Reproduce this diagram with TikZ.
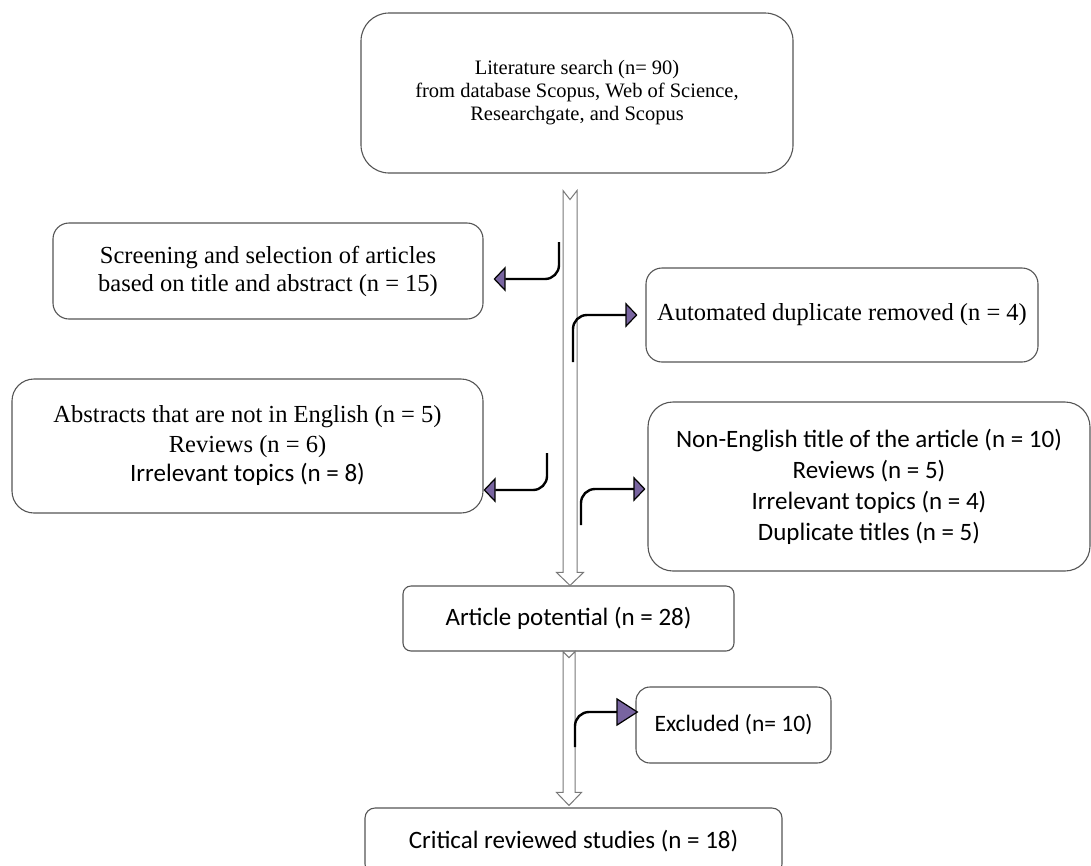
\documentclass[tikz,border=0pt]{standalone}
\usepackage{fontspec}
\setmainfont{Liberation Serif}
\newfontfamily\calib{Carlito}
\usetikzlibrary{arrows.meta,calc}
\definecolor{purp}{RGB}{120,100,160}
\definecolor{edge}{RGB}{85,85,85}
\definecolor{shaft}{RGB}{120,120,120}
\begin{document}
\begin{tikzpicture}[x=1pt,y=-1pt,
  box/.style={draw=edge,line width=1.1pt,fill=white,align=center,inner sep=0pt},
  serif/.style={font=\fontsize{24.5}{28}\selectfont},
  sans/.style={font=\calib\fontsize{25}{31}\selectfont},
  barrow/.style={draw=shaft,line width=1pt,fill=white,line join=miter},
  conn/.style={draw=black,line width=2.4pt,rounded corners=14pt,
    -{Triangle[length=12pt,width=25pt,line width=1.2pt,fill=purp]}},
  connbig/.style={draw=black,line width=2.4pt,rounded corners=14pt,
    -{Triangle[length=22pt,width=28pt,line width=1.2pt,fill=purp]}},
]
\useasboundingbox (0,0) rectangle (1091,865);
\clip (0,0) rectangle (1091,865);

% boxes
\node[box,rounded corners=28pt,minimum width=432pt,minimum height=160pt,
  font=\fontsize{20.5}{23}\selectfont] (top) at (577,93)
  {Literature search (n= 90)\\from database Scopus, Web of Science,\\Researchgate, and Scopus};
\node[box,serif,rounded corners=16pt,minimum width=430pt,minimum height=96pt] (scr) at (268,271)
  {Screening and selection of articles\\based on title and abstract (n = 15)};
\node[box,serif,rounded corners=16pt,minimum width=392pt,minimum height=94pt] (auto) at (842,315)
  {Automated duplicate removed (n = 4)};
\node[box,rounded corners=22pt,minimum width=471pt,minimum height=134pt,
  font=\fontsize{24.5}{29.5}\selectfont] (abs) at (247.5,446)
  {Abstracts that are not in English (n = 5)\\Reviews (n = 6)\\{\calib\fontsize{25}{29.5}\selectfont Irrelevant topics (n = 8)}};
\node[box,sans,rounded corners=25pt,minimum width=442pt,minimum height=169pt] (non) at (869,486.5)
  {Non-English title of the article (n = 10)\\Reviews (n = 5)\\Irrelevant topics (n = 4)\\Duplicate titles (n = 5)};
\node[box,sans,rounded corners=8pt,minimum width=331pt,minimum height=65pt] (pot) at (568.5,618.5)
  {Article potential (n = 28)};
\node[box,rounded corners=14pt,minimum width=195pt,minimum height=76pt,
  font=\calib\fontsize{23.5}{28}\selectfont] (exc) at (733.5,725)
  {Excluded (n= 10)};
\node[box,sans,rounded corners=10pt,minimum width=417pt,minimum height=66pt] (crit) at (573.5,841)
  {Critical reviewed studies (n = 18)};

% block arrows
\coordinate (ax1) at (570,0);
\coordinate (ax2) at (569,0);
\coordinate (T1) at ($(top.south -| ax1)+(0,17)$);
\coordinate (H1) at (pot.north -| ax1);
\draw[barrow] ($(T1)+(-7,0)$) -- ($(T1)+(0,9)$) -- ($(T1)+(7,0)$) -- ($(H1)+(7,-13)$)
  -- ($(H1)+(13.5,-13)$) -- (H1) -- ($(H1)+(-13.5,-13)$) -- ($(H1)+(-7,-13)$) -- cycle;
\coordinate (T2) at (pot.south -| ax2);
\coordinate (H2) at ($(crit.north -| ax2)+(0,-2)$);
\draw[barrow] ($(T2)+(-6,0)$) -- ($(T2)+(0,6)$) -- ($(T2)+(6,0)$) -- ($(H2)+(6,-13)$)
  -- ($(H2)+(12.5,-13)$) -- (H2) -- ($(H2)+(-12.5,-13)$) -- ($(H2)+(-6,-13)$) -- cycle;

% bent connectors
\coordinate (s1) at (559,242);
\coordinate (h1) at (0,279);
\draw[conn] (s1) |- ($(scr.east |- h1)+(10,0)$);
\coordinate (s2) at (573,362);
\draw[conn] (s2) |- ($(auto.west)+(-8,0)$);
\coordinate (s3) at (547,453);
\coordinate (h3) at (0,490);
\draw[conn] (s3) |- (abs.east |- h3);
\coordinate (s4) at (581,525);
\coordinate (h4) at (0,489);
\draw[conn] (s4) |- ($(non.west |- h4)+(-2,0)$);
\coordinate (s5) at (575,747);
\coordinate (h5) at (0,712);
\draw[connbig] (s5) |- ($(exc.west |- h5)+(3,0)$);
\end{tikzpicture}
\end{document}
